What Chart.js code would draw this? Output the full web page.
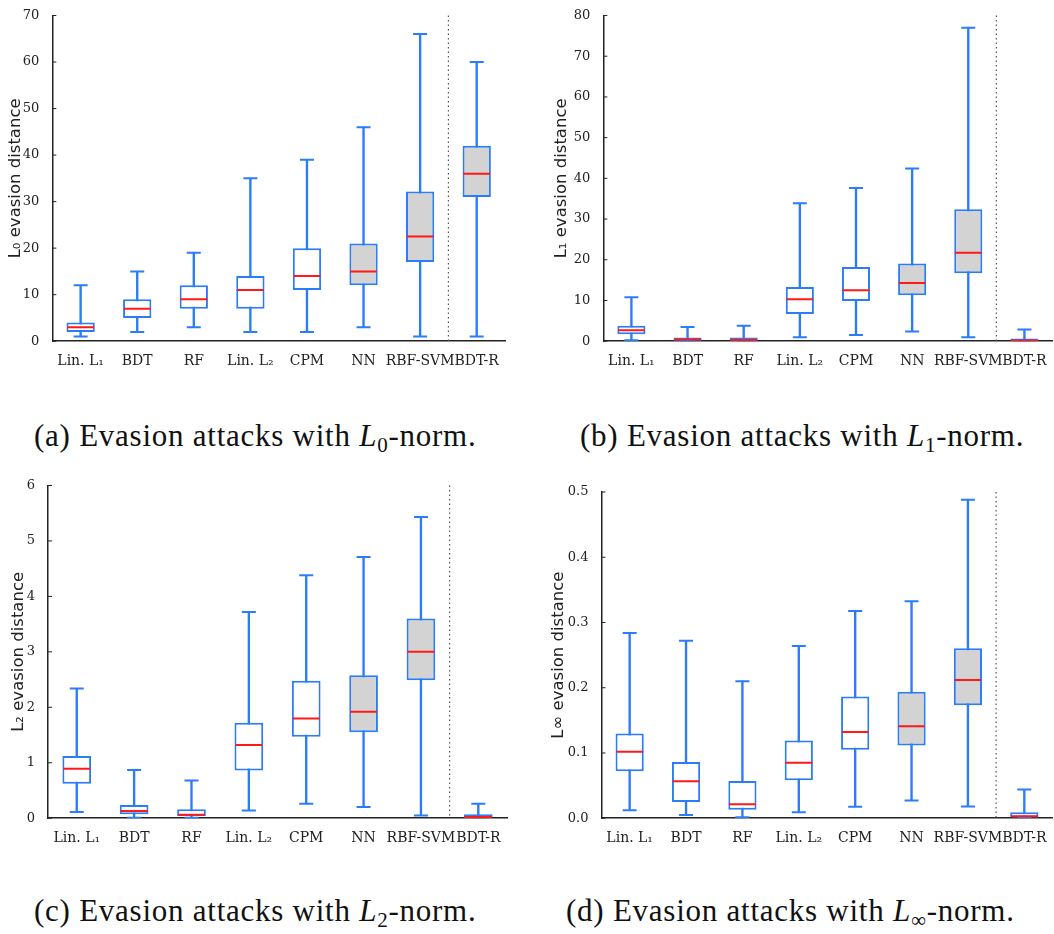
<!DOCTYPE html>
<html>
<head>
<meta charset="utf-8">
<script src="https://cdn.jsdelivr.net/npm/chart.js@4.4.1/dist/chart.umd.min.js"></script>
<style>
  body { margin: 0; background: #fff; width: 1054px; height: 934px; position: relative; overflow: hidden; }
  .painel { position: absolute; width: 527px; height: 384px; }
  .legenda { position: absolute; font-family: "Liberation Serif", serif; font-size: 31px; color: #111; white-space: nowrap; letter-spacing: 0.75px; }
  .legenda sub { font-size: 21px; vertical-align: -6px; line-height: 0; }
</style>
</head>
<body>
<div class="painel" style="left:6px;top:0;width:521px"><canvas id="graficoA"></canvas></div>
<div class="painel" style="left:527px;top:0;width:541px"><canvas id="graficoB"></canvas></div>
<div class="painel" style="left:9px;top:470px;width:518px;height:383px"><canvas id="graficoC"></canvas></div>
<div class="painel" style="left:527px;top:470px;width:541px;height:383px"><canvas id="graficoD"></canvas></div>

<div class="legenda" style="left:34px;top:418px">(a) Evasion attacks with <i>L</i><sub>0</sub>-norm.</div>
<div class="legenda" style="left:580px;top:418px">(b) Evasion attacks with <i>L</i><sub>1</sub>-norm.</div>
<div class="legenda" style="left:34px;top:893px">(c) Evasion attacks with <i>L</i><sub>2</sub>-norm.</div>
<div class="legenda" style="left:566px;top:893px">(d) Evasion attacks with <i>L</i><sub>∞</sub>-norm.</div>

<script>
const classificadores = ["Lin. L₁", "BDT", "RF", "Lin. L₂", "CPM", "NN", "RBF-SVM", "BDT-R"];

// (a) L0
const l0Min = [1, 2, 3, 2, 2, 3, 1, 1];
const l0Q1 = [2, 5, 7, 7, 11, 12, 17, 31];
const l0Mediana = [3, 7, 9, 11, 14, 15, 22.5, 36];
const l0Q3 = [4, 9, 12, 14, 20, 21, 32.2, 42];
const l0Max = [12, 15, 19, 35, 39, 46, 66, 60];
const l0Ticks = [0, 10, 20, 30, 40, 50, 60, 70];

// (b) L1
const l1Min = [0.25, 0, 0, 1.0, 1.5, 2.4, 1.0, 0];
const l1Q1 = [1.7, 0.1, 0.1, 6.7, 9.9, 11.3, 16.7, 0.05];
const l1Mediana = [2.7, 0.4, 0.3, 10.3, 12.5, 14.3, 21.7, 0.2];
const l1Q3 = [3.8, 0.9, 0.9, 13.3, 18.2, 19.1, 32.4, 0.65];
const l1Max = [10.8, 3.5, 3.8, 33.9, 37.6, 42.4, 77, 2.85];
const l1Ticks = [0, 10, 20, 30, 40, 50, 60, 70, 80];

// (c) L2
const l2Min = [0.11, 0.01, 0.01, 0.14, 0.26, 0.20, 0.05, 0];
const l2Q1 = [0.62, 0.07, 0.04, 0.86, 1.47, 1.55, 2.49, 0.01];
const l2Mediana = [0.89, 0.13, 0.06, 1.32, 1.80, 1.92, 3.0, 0.02];
const l2Q3 = [1.12, 0.24, 0.16, 1.72, 2.48, 2.58, 3.6, 0.07];
const l2Max = [2.34, 0.87, 0.68, 3.72, 4.38, 4.71, 5.43, 0.26];
const l2Ticks = [0, 1, 2, 3, 4, 5, 6];

// (d) Linf
const lInfMin = [0.012, 0.005, 0.0015, 0.009, 0.0175, 0.027, 0.018, 0.0005];
const lInfQ1 = [0.072, 0.025, 0.013, 0.058, 0.105, 0.1115, 0.173, 0.001];
const lInfMediana = [0.102, 0.0565, 0.0215, 0.085, 0.132, 0.141, 0.212, 0.003];
const lInfQ3 = [0.130, 0.086, 0.057, 0.119, 0.1865, 0.194, 0.2605, 0.009];
const lInfMax = [0.284, 0.272, 0.21, 0.264, 0.3175, 0.3325, 0.488, 0.044];
const lInfTicks = [0, 0.1, 0.2, 0.3, 0.4, 0.5];

const AZUL = "#2a7cf7";
const CINZA = "#d3d3d3";
const VERMELHO = "#ff1a1a";
const SERIFA = "'DejaVu Serif', 'Liberation Serif', serif";
const SANS = "'DejaVu Sans', sans-serif";

// separador pontilhado entre RBF-SVM e BDT-R + marcas internas do eixo y
const extras = {
  id: "extras",
  afterDatasetsDraw(chart) {
    const { ctx, chartArea, scales } = chart;
    const x = (scales.x.getPixelForValue(6) + scales.x.getPixelForValue(7)) / 2;
    ctx.save();
    ctx.strokeStyle = "#555";
    ctx.lineWidth = 1.2;
    ctx.setLineDash([1.5, 3]);
    ctx.beginPath();
    ctx.moveTo(x, chartArea.top);
    ctx.lineTo(x, chartArea.bottom);
    ctx.stroke();
    ctx.setLineDash([]);
    ctx.strokeStyle = "#222";
    ctx.lineWidth = 1;
    scales.y.ticks.forEach((t, i) => {
      const y = scales.y.getPixelForTick(i);
      ctx.beginPath();
      ctx.moveTo(chartArea.left, y);
      ctx.lineTo(chartArea.left + 4, y);
      ctx.stroke();
    });
    ctx.restore();
  }
};

function criarBoxplot(id, titulo, mins, q1s, medianas, q3s, maxs, ticks, preenchidos, casas, padding, folgaTitulo) {
  const caixas = q1s.map((q, i) => [q, q3s[i]]);
  const bigodes = mins.map((m, i) => [m, maxs[i]]);
  const fundo = classificadores.map((_, i) => preenchidos.includes(i) ? CINZA : "#ffffff");
  const marca = (dados, cor, raio, ordem) => ({
    type: "line", data: dados, showLine: false, order: ordem,
    pointStyle: "line", pointRadius: raio, pointBorderColor: cor, pointBorderWidth: 2,
    borderColor: cor, pointHoverRadius: raio
  });

  return new Chart(document.getElementById(id), {
    type: "bar",
    data: {
      labels: classificadores,
      datasets: [
        { data: bigodes, grouped: false, order: 5, barThickness: 1.7, backgroundColor: AZUL, borderWidth: 0 },
        { data: caixas, grouped: false, order: 4, barPercentage: 0.5, categoryPercentage: 1,
          backgroundColor: fundo, borderColor: AZUL, borderWidth: 2, borderSkipped: false },
        marca(mins, AZUL, 7, 3),
        marca(maxs, AZUL, 7, 2),
        marca(medianas, VERMELHO, 13.5, 1)
      ]
    },
    options: {
      responsive: true,
      maintainAspectRatio: false,
      animation: false,
      events: [],
      layout: { padding },
      plugins: { legend: { display: false }, tooltip: { enabled: false } },
      scales: {
        x: {
          grid: { display: false },
          border: { display: true, color: "#222", width: 1.5 },
          ticks: { color: "#222", font: { family: SERIFA, size: 14 }, maxRotation: 0, autoSkip: false, padding: 4 }
        },
        y: {
          min: ticks[0],
          max: ticks[ticks.length - 1],
          afterBuildTicks: axis => { axis.ticks = ticks.map(v => ({ value: v })); },
          grid: { display: false },
          border: { display: true, color: "#222", width: 1.5 },
          ticks: { color: "#222", font: { family: SERIFA, size: 13 }, padding: 5,
            callback: v => v.toFixed(casas) },
          title: { display: true, text: titulo, color: "#222", font: { family: SANS, size: 16.5 }, padding: { top: 0, bottom: folgaTitulo } }
        }
      }
    },
    plugins: [extras]
  });
}

criarBoxplot("graficoA", "L₀ evasion distance", l0Min, l0Q1, l0Mediana, l0Q3, l0Max, l0Ticks, [5, 6, 7], 0,
  { left: 0, right: 22, top: 3, bottom: 10 }, -8);
criarBoxplot("graficoB", "L₁ evasion distance", l1Min, l1Q1, l1Mediana, l1Q3, l1Max, l1Ticks, [5, 6], 0,
  { left: 25, right: 1, top: 3, bottom: 10 }, -3);
criarBoxplot("graficoC", "L₂ evasion distance", l2Min, l2Q1, l2Mediana, l2Q3, l2Max, l2Ticks, [5, 6], 0,
  { left: 0, right: 20, top: 5, bottom: 2 }, -7);
criarBoxplot("graficoD", "L∞ evasion distance", lInfMin, lInfQ1, lInfMediana, lInfQ3, lInfMax, lInfTicks, [5, 6], 1,
  { left: 22, right: 0, top: 22, bottom: 2 }, -6);
</script>
</body>
</html>
